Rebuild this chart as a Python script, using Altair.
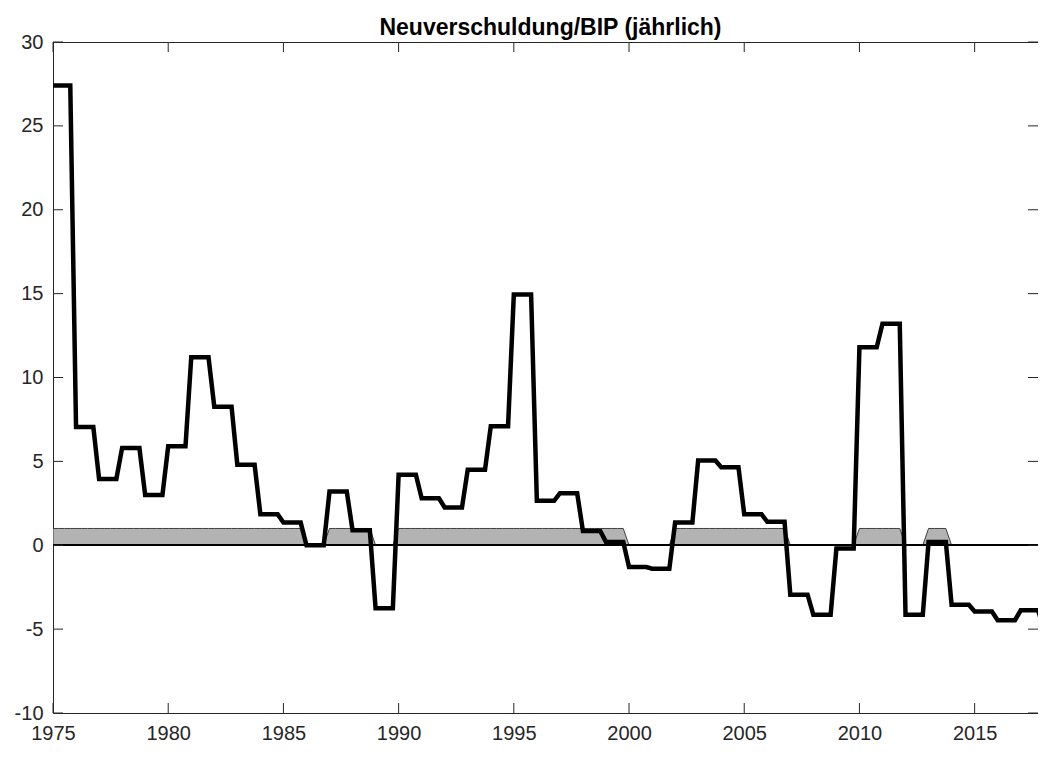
import altair as alt
import pandas as pd

# Annual values (held constant over the four quarters of each year)
years = list(range(1975, 2018))
values = [27.4, 7.05, 3.95, 5.8, 3.0, 5.9, 11.2, 8.25, 4.8, 1.85,
          1.35, 0.0, 3.2, 0.9, -3.75, 4.2, 2.8, 2.25, 4.5, 7.1,
          14.95, 2.65, 3.1, 0.85, 0.2, -1.3, -1.4, 1.35, 5.05, 4.65,
          1.85, 1.4, -2.95, -4.15, -0.2, 11.8, 13.2, -4.15, 0.2, -3.55,
          -3.95, -4.47, -3.88]
# shaded indicator band (0/1) per year
band = [1, 1, 1, 1, 1, 1, 1, 1, 1, 1,
        1, 0, 1, 1, 0, 1, 1, 1, 1, 1,
        1, 1, 1, 1, 1, 0, 0, 1, 1, 1,
        1, 1, 0, 0, 0, 1, 1, 0, 1, 0,
        0, 0, 0]
last_t = 2018.0
last_value = -4.9
last_band = 0

x_ticks = [1975, 1980, 1985, 1990, 1995, 2000, 2005, 2010, 2015]
y_ticks = [-10, -5, 0, 5, 10, 15, 20, 25, 30]

rows = []
for yr, v, b in zip(years, values, band):
    for q in range(4):
        rows.append({"t": yr + q * 0.25, "v": v, "b": b})
rows.append({"t": last_t, "v": last_value, "b": last_band})
df = pd.DataFrame(rows)

W, H = 985, 671
FONT = "Liberation Sans"
AX = "#262626"

xs = alt.Scale(domain=[1975, 2017.75], nice=False, zero=False)
ys = alt.Scale(domain=[-10, 30], nice=False, zero=False)

x_axis = alt.Axis(values=x_ticks, format="d", ticks=False, tickSize=0,
                  labelPadding=10, labelFontSize=20, labelFont=FONT,
                  labelColor=AX, domain=False, grid=False, labelFlush=False,
                  title=None)
y_axis = alt.Axis(values=y_ticks, ticks=False, tickSize=0,
                  labelExpr="'' + datum.value",
                  labelPadding=10, labelFontSize=20, labelFont=FONT,
                  labelColor=AX, domain=False, grid=False, labelFlush=False,
                  title=None)

area = alt.Chart(df).mark_area(
    color="#b3b3b3", stroke="#404040", strokeWidth=1, clip=True
).encode(
    x=alt.X("t:Q", scale=xs, axis=x_axis),
    y=alt.Y("b:Q", scale=ys, axis=y_axis),
    y2=alt.datum(0),
)

zero = alt.Chart(df).mark_rule(color="black", strokeWidth=1.5).encode(
    y=alt.datum(0),
)

line = alt.Chart(df).mark_line(
    color="black", strokeWidth=4.5, clip=True
).encode(
    x=alt.X("t:Q", scale=xs, axis=x_axis),
    y=alt.Y("v:Q", scale=ys, axis=y_axis),
)

ydf = pd.DataFrame({"yv": y_ticks})
xdf = pd.DataFrame({"xv": x_ticks})

yt_left = alt.Chart(ydf).mark_rule(color=AX, strokeWidth=1).encode(
    y=alt.Y("yv:Q", scale=ys, axis=y_axis), x=alt.value(0), x2=alt.value(10))
yt_right = alt.Chart(ydf).mark_rule(color=AX, strokeWidth=1).encode(
    y=alt.Y("yv:Q", scale=ys, axis=y_axis), x=alt.value(W - 10), x2=alt.value(W))
xt_bottom = alt.Chart(xdf).mark_rule(color=AX, strokeWidth=1).encode(
    x=alt.X("xv:Q", scale=xs, axis=x_axis), y=alt.value(H - 10), y2=alt.value(H))
xt_top = alt.Chart(xdf).mark_rule(color=AX, strokeWidth=1).encode(
    x=alt.X("xv:Q", scale=xs, axis=x_axis), y=alt.value(0), y2=alt.value(10))

chart = alt.layer(area, zero, line, yt_left, yt_right, xt_bottom, xt_top).properties(
    width=W, height=H,
    title=alt.TitleParams("Neuverschuldung/BIP (jährlich)", fontSize=23, font=FONT,
                          fontWeight="bold", color="black", anchor="middle",
                          offset=-8, dx=5),
    autosize=alt.AutoSizeParams(type="none"),
    padding={"left": 45, "top": 34, "right": 0, "bottom": 32},
).configure(
    background="white",
    view=alt.ViewConfig(stroke=AX, strokeWidth=1),
)

chart.save("out.html", embed_options={"renderer": "svg", "actions": False})
